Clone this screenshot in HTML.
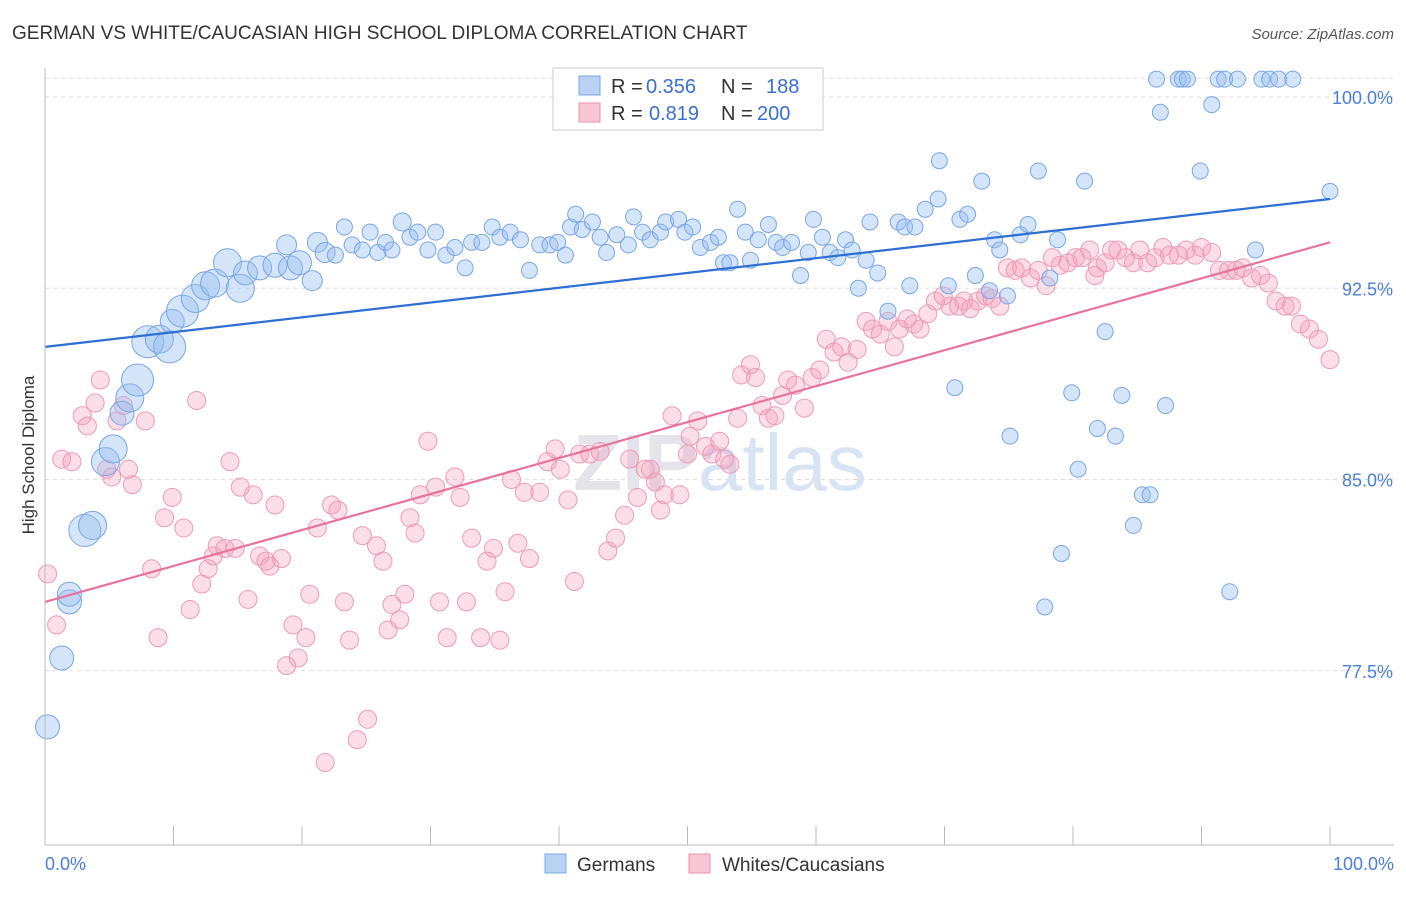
<!DOCTYPE html>
<html><head><meta charset="utf-8"><style>
body{margin:0;background:#fff;font-family:"Liberation Sans",sans-serif}
svg text{font-family:"Liberation Sans",sans-serif}
</style></head><body>
<svg id="chart" width="1406" height="892" xmlns="http://www.w3.org/2000/svg">
<text x="12" y="39" font-size="19" fill="#333">GERMAN VS WHITE/CAUCASIAN HIGH SCHOOL DIPLOMA CORRELATION CHART</text>
<text x="1394" y="39" font-size="15" fill="#555" text-anchor="end" font-style="italic">Source: ZipAtlas.com</text>
<g id="grid"></g>
<text x="720" y="490" font-size="80" fill="#e4e4ea" text-anchor="middle" font-weight="bold">ZIP<tspan fill="#d8e4f4" font-weight="normal">atlas</tspan></text>
<g id="marks"></g>
<line x1="45" y1="68" x2="45" y2="845" stroke="#bbb"/>
<line x1="45" y1="845" x2="1394" y2="845" stroke="#bbb"/>
<text transform="translate(34,455) rotate(-90)" font-size="17" fill="#333" text-anchor="middle">High School Diploma</text>
<text x="45" y="870" font-size="18" fill="#4a7fd8">0.0%</text>
<text x="1394" y="870" font-size="18" fill="#4a7fd8" text-anchor="end">100.0%</text>
<g>
<rect x="553" y="68" width="270" height="62" fill="#fff" stroke="#ccc"/>
<rect x="579" y="76" width="21" height="19" fill="#b9d2f3" stroke="#7aa7e6"/>
<rect x="579" y="103" width="21" height="19" fill="#f9c6d5" stroke="#eb94b0"/>
<text x="611" y="93" font-size="20" fill="#333">R = <tspan x="646" fill="#3a6fd0">0.356</tspan><tspan x="721">N = </tspan><tspan x="766" fill="#3a6fd0">188</tspan></text>
<text x="611" y="120" font-size="20" fill="#333">R = <tspan x="649" fill="#3a6fd0">0.819</tspan><tspan x="721">N = </tspan><tspan x="757" fill="#3a6fd0">200</tspan></text>
</g>
<g>
<rect x="545" y="854" width="21" height="19" fill="#b9d2f3" stroke="#7aa7e6"/>
<text x="577" y="871" font-size="19" fill="#333">Germans</text>
<rect x="689" y="854" width="21" height="19" fill="#f9c6d5" stroke="#eb94b0"/>
<text x="722" y="871" font-size="19" fill="#333">Whites/Caucasians</text>
</g>
</svg>
<script>
const yTicks=[100,92.5,85,77.5];
const yTickLabels=["100.0%","92.5%","85.0%","77.5%"];
const blueX=[0.2,1.3,1.9,1.9,3.1,3.7,4.7,5.3,6.0,6.6,7.2,8.0,8.9,9.7,9.9,10.7,11.7,12.5,13.2,14.2,15.2,15.6,16.7,17.9,19.1,19.8,18.8,20.8,21.2,21.8,22.6,23.3,23.9,24.7,25.3,25.9,26.5,27.0,27.8,28.4,29.0,29.8,30.4,31.2,31.9,32.7,33.2,34.0,34.8,35.4,36.2,37.0,37.7,38.5,39.3,39.9,40.5,40.9,41.3,41.8,42.6,43.2,43.7,44.5,45.4,45.8,46.5,47.1,47.9,48.3,49.3,49.8,50.4,51.0,51.8,52.4,52.8,53.3,53.9,54.5,54.9,55.5,56.3,56.9,57.4,58.1,58.8,59.4,59.8,60.5,61.1,61.7,62.3,62.8,63.3,63.9,64.2,64.8,65.6,66.4,66.9,67.3,67.7,68.5,69.5,69.6,70.3,70.8,71.2,71.8,72.4,72.9,73.5,73.9,74.3,74.9,75.1,75.9,76.5,77.3,77.8,78.2,78.8,79.1,79.9,80.4,80.9,81.9,82.5,83.3,83.8,84.7,85.4,86.0,86.5,86.8,87.2,88.2,88.5,88.9,89.9,90.8,91.3,91.8,92.2,92.8,94.2,94.7,95.3,96.0,97.1,100.0];
const blueY=[75.3,78.0,80.2,80.5,83.0,83.2,85.7,86.2,87.6,88.2,88.9,90.4,90.5,90.2,91.2,91.6,92.1,92.6,92.7,93.5,92.5,93.1,93.3,93.4,93.3,93.5,94.2,92.8,94.3,93.9,93.8,94.9,94.2,94.0,94.7,93.9,94.3,94.0,95.1,94.5,94.7,94.0,94.7,93.8,94.1,93.3,94.3,94.3,94.9,94.5,94.7,94.4,93.2,94.2,94.2,94.3,93.8,94.9,95.4,94.8,95.1,94.5,93.9,94.6,94.2,95.3,94.7,94.4,94.7,95.1,95.2,94.7,94.9,94.1,94.3,94.5,93.5,93.5,95.6,94.7,93.6,94.4,95.0,94.3,94.1,94.3,93.0,93.9,95.2,94.5,93.9,93.7,94.4,94.0,92.5,93.6,95.1,93.1,91.6,95.1,94.9,92.6,94.9,95.6,96.0,97.5,92.6,88.6,95.2,95.4,93.0,96.7,92.4,94.4,94.0,92.2,86.7,94.6,95.0,97.1,80.0,92.9,94.4,82.1,88.4,85.4,96.7,87.0,90.8,86.7,88.3,83.2,84.4,84.4,100.7,99.4,87.9,100.7,100.7,100.7,97.1,99.7,100.7,100.7,80.6,100.7,94.0,100.7,100.7,100.7,100.7,96.3];
const blueSize=[12,12,12,12,16,14,14,14,12,14,16,16,14,16,12,16,14,14,14,14,14,12,12,12,12,12,10,10,10,10,8,8,8,8,8,8,8,8,9];
const pinkX=[0.2,0.9,1.3,2.1,2.9,3.3,3.9,4.3,4.8,5.2,5.6,6.1,6.5,6.8,7.8,8.3,8.8,9.3,9.9,10.8,11.3,11.8,12.2,12.7,13.1,13.4,14.0,14.4,14.8,15.2,15.8,16.2,16.7,17.2,17.5,17.9,18.4,18.8,19.3,19.7,20.3,20.6,21.2,21.8,22.3,22.8,23.3,23.7,24.3,24.7,25.1,25.8,26.3,26.7,27.0,27.6,28.0,28.4,28.8,29.2,29.8,30.4,30.7,31.3,31.9,32.3,32.8,33.2,33.9,34.4,34.9,35.4,35.8,36.3,36.8,37.3,37.7,38.5,39.1,39.7,40.1,40.7,41.2,41.6,42.4,43.2,43.8,44.4,45.1,45.5,46.1,46.7,47.1,47.5,47.9,48.2,48.8,49.4,50.0,50.2,50.8,51.4,51.9,52.5,52.9,53.3,53.9,54.2,54.9,55.3,55.8,56.3,56.8,57.4,57.8,58.4,59.1,59.7,60.3,60.8,61.4,62.0,62.5,63.2,63.9,64.4,65.0,65.6,66.1,66.5,67.1,67.6,68.1,68.7,69.3,69.9,70.4,71.1,71.5,72.0,72.6,73.2,73.7,74.3,74.9,75.5,76.0,76.7,77.3,77.9,78.4,79.0,79.6,80.2,80.7,81.3,81.9,82.5,83.0,83.5,84.1,84.7,85.2,85.8,86.4,87.0,87.5,88.2,88.8,89.5,90.0,90.8,91.4,92.1,92.7,93.2,93.9,94.6,95.2,95.8,96.5,97.0,97.7,98.4,99.1,100.0,81.7];
const pinkY=[81.3,79.3,85.8,85.7,87.5,87.1,88.0,88.9,85.4,85.1,87.3,87.9,85.4,84.8,87.3,81.5,78.8,83.5,84.3,83.1,79.9,88.1,80.9,81.5,82.0,82.4,82.3,85.7,82.3,84.7,80.3,84.4,82.0,81.8,81.6,84.0,81.9,77.7,79.3,78.0,78.8,80.5,83.1,73.9,84.0,83.8,80.2,78.7,74.8,82.8,75.6,82.4,81.8,79.1,80.1,79.5,80.5,83.5,82.9,84.4,86.5,84.7,80.2,78.8,85.1,84.3,80.2,82.7,78.8,81.8,82.3,78.7,80.6,85.0,82.5,84.5,81.9,84.5,85.7,86.2,85.4,84.2,81.0,86.0,86.0,86.1,82.2,82.7,83.6,85.8,84.3,85.4,85.4,84.9,83.8,84.4,87.5,84.4,86.0,86.7,87.3,86.3,86.0,86.5,85.8,85.6,87.4,89.1,89.5,89.0,87.9,87.4,87.5,88.3,88.9,88.7,87.8,89.0,89.3,90.5,90.0,90.2,89.6,90.1,91.2,90.9,90.7,91.2,90.2,90.9,91.3,91.1,90.9,91.5,92.0,92.2,91.8,91.8,92.0,91.7,92.0,92.2,92.1,91.8,93.3,93.2,93.3,92.9,93.2,92.6,93.7,93.4,93.5,93.7,93.7,94.0,93.3,93.5,94.0,94.0,93.7,93.5,94.0,93.5,93.7,94.1,93.8,93.8,94.0,93.8,94.1,93.9,93.2,93.2,93.2,93.3,92.9,93.0,92.7,92.0,91.8,91.8,91.1,90.9,90.5,89.7,93.0];
const blueTrend=[90.2,96.0];
const pinkTrend=[80.2,94.3];
const NS="http://www.w3.org/2000/svg";
function xs(v){return 45+v*12.85;}
function ys(v){return 97+(100-v)*25.5;}
const grid=document.getElementById('grid');
const marks=document.getElementById('marks');
function mk(tag,attrs,parent){const e=document.createElementNS(NS,tag);for(const k in attrs)e.setAttribute(k,attrs[k]);parent.appendChild(e);return e;}
const gl=mk('line',{x1:45,x2:1394,y1:78,y2:78,stroke:'#ddd','stroke-dasharray':'4,4'},grid);


yTicks.forEach((t,i)=>{
 const l=mk('line',{x1:45,x2:1394,y1:ys(t),y2:ys(t),stroke:'#ddd','stroke-dasharray':'4,4'},grid);
 
 
 const tx=mk('text',{x:1393,y:ys(t)+7,'font-size':18,fill:'#4a7fd8','text-anchor':'end'},grid);
 tx.textContent=yTickLabels[i];
 
 
});
for(let i=0;i<=10;i++){
 const tk=mk('line',{x1:xs(i*10),x2:xs(i*10),y1:826,y2:845,stroke:'#bbb'},grid);
 
 
}
pinkX.forEach((x,i)=>{
 const c=mk('circle',{cx:xs(x),cy:ys(pinkY[i]),r:9,fill:'rgba(244,160,186,0.35)',stroke:'#ec9cb6','stroke-width':1},marks);
 
 
});
blueX.forEach((x,i)=>{
 const r=blueSize[i]||8;
 const c=mk('circle',{cx:xs(x),cy:ys(blueY[i]),r:r,fill:'rgba(150,190,240,0.4)',stroke:'#78a6e4','stroke-width':1},marks);
 
 
});
const bt=mk('line',{x1:xs(0),y1:ys(blueTrend[0]),x2:xs(100),y2:ys(blueTrend[1]),stroke:'#2e6fd6','stroke-width':2.2},marks);


const pt=mk('line',{x1:xs(0),y1:ys(pinkTrend[0]),x2:xs(100),y2:ys(pinkTrend[1]),stroke:'#e8739c','stroke-width':2.2},marks);


</script>
</body></html>
